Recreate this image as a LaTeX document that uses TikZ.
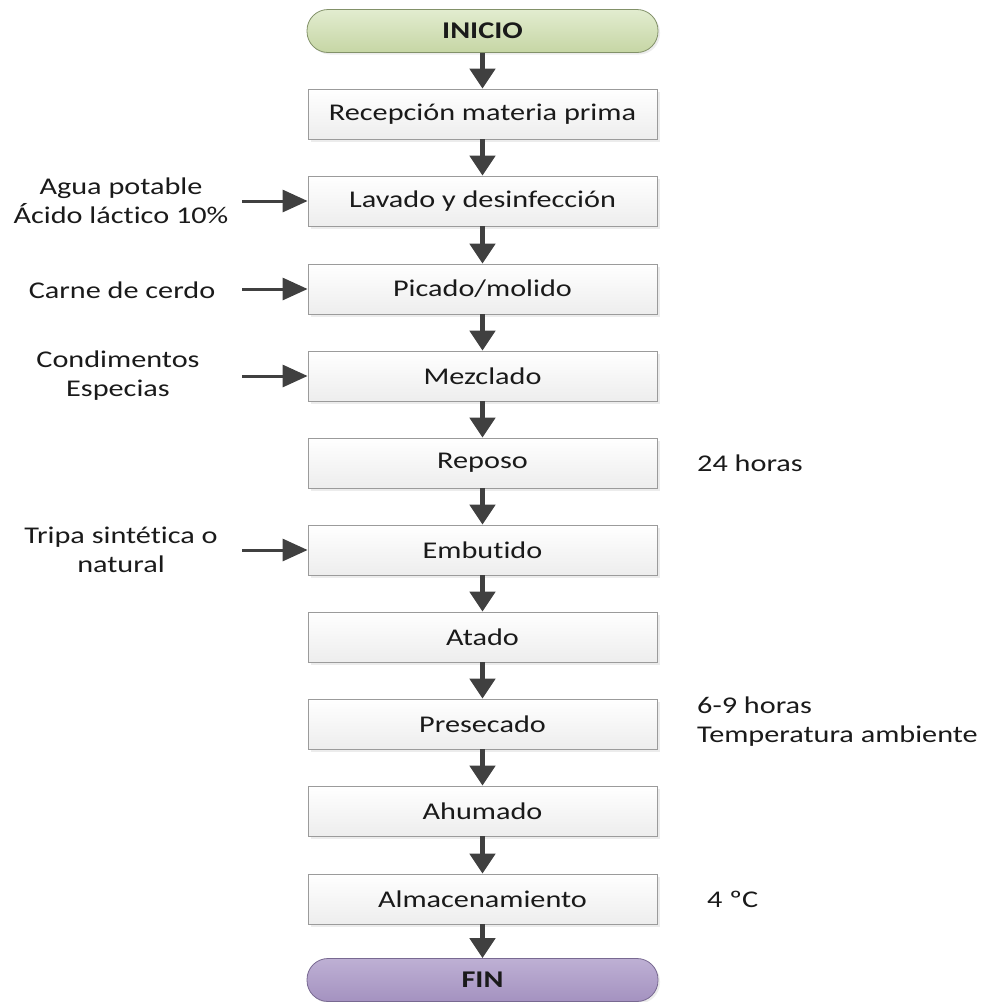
\documentclass[tikz,border=0pt]{standalone}
\usepackage{fontspec}
\setmainfont{Carlito}[Ligatures=NoCommon]
\usepackage{graphicx}
\usetikzlibrary{arrows.meta,shadows}
\newcommand{\wtx}[1]{\scalebox{1.26}[1]{#1}}
\definecolor{arrowgray}{RGB}{64,64,64}
\definecolor{boxline}{RGB}{155,155,155}
\definecolor{txtcol}{RGB}{26,26,26}
\definecolor{greentop}{RGB}{226,236,208}
\definecolor{greenbot}{RGB}{198,214,164}
\definecolor{greenline}{RGB}{130,145,105}
\definecolor{purptop}{RGB}{190,176,212}
\definecolor{purpbot}{RGB}{164,146,192}
\definecolor{purpline}{RGB}{120,105,145}
\tikzset{
  basefont/.style={font=\fontsize{24}{29}\selectfont, text=txtcol},
  stepbox/.style={rectangle, draw=boxline, line width=0.8pt,
    minimum width=349pt, minimum height=50pt, inner sep=0pt,
    top color=white, bottom color=gray!14,
    drop shadow={shadow xshift=2.5pt, shadow yshift=-2.5pt, fill=gray!30},
    basefont},
  termbox/.style={rectangle, rounded corners=21pt, line width=0.8pt,
    minimum width=351pt, minimum height=43pt, inner sep=0pt,
    drop shadow={shadow xshift=2pt, shadow yshift=-2pt, fill=gray!30},
    basefont, font=\fontsize{24}{29}\selectfont\bfseries},
  flowarrow/.style={draw=arrowgray, line width=5pt,
    -{Triangle[width=25pt,length=20pt]}},
  feedarrow/.style={draw=arrowgray, line width=3pt,
    -{Triangle[width=22pt,length=25pt]}},
  sidetext/.style={basefont, align=center, inner sep=0pt},
  notetext/.style={basefont, align=left, inner sep=0pt, anchor=west}
}
\begin{document}
\begin{tikzpicture}[x=1pt,y=-1pt]
\useasboundingbox (0,0) rectangle (992,1002);
% main column
\node[termbox, draw=greenline, top color=greentop, bottom color=greenbot] (ini) at (482.5,31) {\wtx{INICIO}};
\node[stepbox] (rec) at (482.5,114) {\wtx{Recepción materia prima}};
\node[stepbox] (lav) at (482.5,201) {\wtx{Lavado y desinfección}};
\node[stepbox] (pic) at (482.5,289) {\wtx{Picado/molido}};
\node[stepbox] (mez) at (482.5,376) {\wtx{Mezclado}};
\node[stepbox] (rep) at (482.5,463) {\wtx{Reposo}};
\node[stepbox] (emb) at (482.5,550) {\wtx{Embutido}};
\node[stepbox] (ata) at (482.5,637) {\wtx{Atado}};
\node[stepbox] (pre) at (482.5,724) {\wtx{Presecado}};
\node[stepbox] (ahu) at (482.5,811) {\wtx{Ahumado}};
\node[stepbox] (alm) at (482.5,899) {\wtx{Almacenamiento}};
\node[termbox, draw=purpline, top color=purptop, bottom color=purpbot] (fin) at (482.5,980) {\wtx{FIN}};
% flow arrows
\draw[flowarrow] (ini) -- (rec);
\draw[flowarrow] (rec) -- (lav);
\draw[flowarrow] (lav) -- (pic);
\draw[flowarrow] (pic) -- (mez);
\draw[flowarrow] (mez) -- (rep);
\draw[flowarrow] (rep) -- (emb);
\draw[flowarrow] (emb) -- (ata);
\draw[flowarrow] (ata) -- (pre);
\draw[flowarrow] (pre) -- (ahu);
\draw[flowarrow] (ahu) -- (alm);
\draw[flowarrow] (alm) -- (fin);
% inputs on the left
\node[sidetext] (agua) at (121,201) {\wtx{Agua potable}\\\wtx{Ácido láctico 10\%}};
\node[sidetext] (carne) at (122,290) {\wtx{Carne de cerdo}};
\node[sidetext] (cond) at (118,376) {\wtx{Condimentos}\\\wtx{Especias}};
\node[sidetext] (tripa) at (121,550) {\wtx{Tripa sintética o}\\\wtx{natural}};
\coordinate (sa) at (242,201);
\coordinate (sc) at (242,289);
\coordinate (sm) at (242,376);
\coordinate (se) at (242,550);
\draw[feedarrow] (sa) -- (sa -| lav.west);
\draw[feedarrow] (sc) -- (sc -| pic.west);
\draw[feedarrow] (sm) -- (sm -| mez.west);
\draw[feedarrow] (se) -- (se -| emb.west);
% notes on the right
\node[notetext] (n24) at (697,463) {\wtx{24 horas}};
\node[notetext] (n69) at (697,722) {\wtx{6-9 horas}\\\wtx{Temperatura ambiente}};
\node[notetext] (n4) at (707,899) {\wtx{4 ºC}};
\end{tikzpicture}
\end{document}
